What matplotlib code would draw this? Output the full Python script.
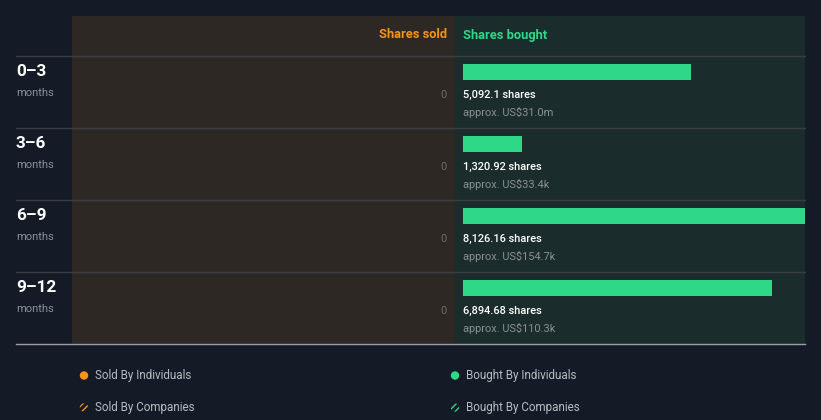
import matplotlib
matplotlib.use("Agg")
import matplotlib.pyplot as plt
from matplotlib.patches import Rectangle, Circle

# ---- data ----
periods = ["0–3", "3–6", "6–9", "9–12"]
shares_bought = [5092.1, 1320.92, 8126.16, 6894.68]
bought_labels = ["5,092.1 shares", "1,320.92 shares", "8,126.16 shares", "6,894.68 shares"]
bought_values = ["approx. US$31.0m", "approx. US$33.4k", "approx. US$154.7k", "approx. US$110.3k"]
shares_sold = [0, 0, 0, 0]
sold_labels = ["0", "0", "0", "0"]
legend_items = ["Sold By Individuals", "Bought By Individuals", "Sold By Companies", "Bought By Companies"]

# ---- style ----
BG = "#151b26"
SOLD_BG = "#2d2823"
BOUGHT_BG = "#1b2c2c"
GREEN = "#2ed888"
ORANGE = "#f7931a"
GRAY = "#8b9096"
LINE = "#3a3e44"
FONT = ["Roboto", "DejaVu Sans"]
plt.rcParams["font.family"] = FONT
plt.rcParams["hatch.linewidth"] = 1.0

W, H = 821, 420
fig = plt.figure(figsize=(W / 100, H / 100), dpi=100, facecolor=BG)

# layout axes in pixel units
lay = fig.add_axes([0, 0, 1, 1])
lay.set_xlim(0, W)
lay.set_ylim(H, 0)
lay.axis("off")
lay.set_facecolor(BG)

top, header_bot, row_h = 16, 56, 72
left_sold, mid, right = 72, 455, 805
bottom = header_bot + row_h * len(periods)

lay.add_patch(Rectangle((left_sold, top), mid - left_sold, bottom - top, color=SOLD_BG, lw=0, zorder=0))
lay.add_patch(Rectangle((mid, top), right - mid, bottom - top, color=BOUGHT_BG, lw=0, zorder=0))

for i in range(len(periods)):
    y = header_bot + i * row_h
    lay.plot([16, right], [y, y], color=LINE, lw=1, zorder=1)
lay.plot([16, right], [bottom - 0.5, bottom - 0.5], color="#9a9ea4", lw=1, zorder=3)

lay.text(mid - 8, 35, "Shares sold", color=ORANGE, fontsize=9.3, fontweight="bold", ha="right", va="center")
lay.text(mid + 8, 35, "Shares bought", color=GREEN, fontsize=9.3, fontweight="bold", ha="left", va="center")

for i, p in enumerate(periods):
    y0 = header_bot + i * row_h
    lay.text(16, y0 + 15, p, color="white", fontsize=12.3, fontweight="bold", ha="left", va="center")
    lay.text(16, y0 + 37, "months", color=GRAY, fontsize=8.1, ha="left", va="center")

# legend
leg_pos = [(84, 375), (455, 375), (84, 407), (455, 407)]
leg_cols = [ORANGE, GREEN, ORANGE, GREEN]
for k, (lab, (x, y), c) in enumerate(zip(legend_items, leg_pos, leg_cols)):
    if k < 2:
        lay.add_patch(Circle((x, y + 0.5), 4.2, color=c, lw=0))
    else:
        lay.add_patch(Circle((x, y + 0.5), 4.2, facecolor=BG, edgecolor=c, hatch="/////", lw=0))
    lay.text(x + 11, y + 0.5, lab, color="#b8bcc2", fontsize=8.4, ha="left", va="center")

# bar scale
px_per_share = 0.0448
k = 1 / px_per_share
pad = 8

# bought axes
ax_b = fig.add_axes([mid / W, (H - bottom) / H, (right - mid) / W, (bottom - header_bot) / H])
ax_b.set_xlim(-pad * k, (right - mid - pad) * k)
ax_b.set_ylim(len(periods), 0)
ax_b.axis("off")
ypos = [i + 16 / row_h for i in range(len(periods))]
ax_b.barh(ypos, shares_bought, height=16 / row_h, color=GREEN, left=0)
for i in range(len(periods)):
    ax_b.text(0, i + 38.5 / row_h, bought_labels[i], color="white", fontsize=7.9, fontweight="medium", ha="left", va="center")
    ax_b.text(0, i + 56.5 / row_h, bought_values[i], color=GRAY, fontsize=7.9, ha="left", va="center")

# sold axes
ax_s = fig.add_axes([left_sold / W, (H - bottom) / H, (mid - left_sold) / W, (bottom - header_bot) / H])
ax_s.set_xlim((mid - left_sold - pad) * k, -pad * k)
ax_s.set_ylim(len(periods), 0)
ax_s.axis("off")
ax_s.barh(ypos, shares_sold, height=16 / row_h, color=ORANGE)
for i in range(len(periods)):
    ax_s.text(0, i + 38.5 / row_h, sold_labels[i], color="#6e6a66", fontsize=7.9, ha="right", va="center")

fig.savefig("out.png", dpi=100, facecolor=BG)
